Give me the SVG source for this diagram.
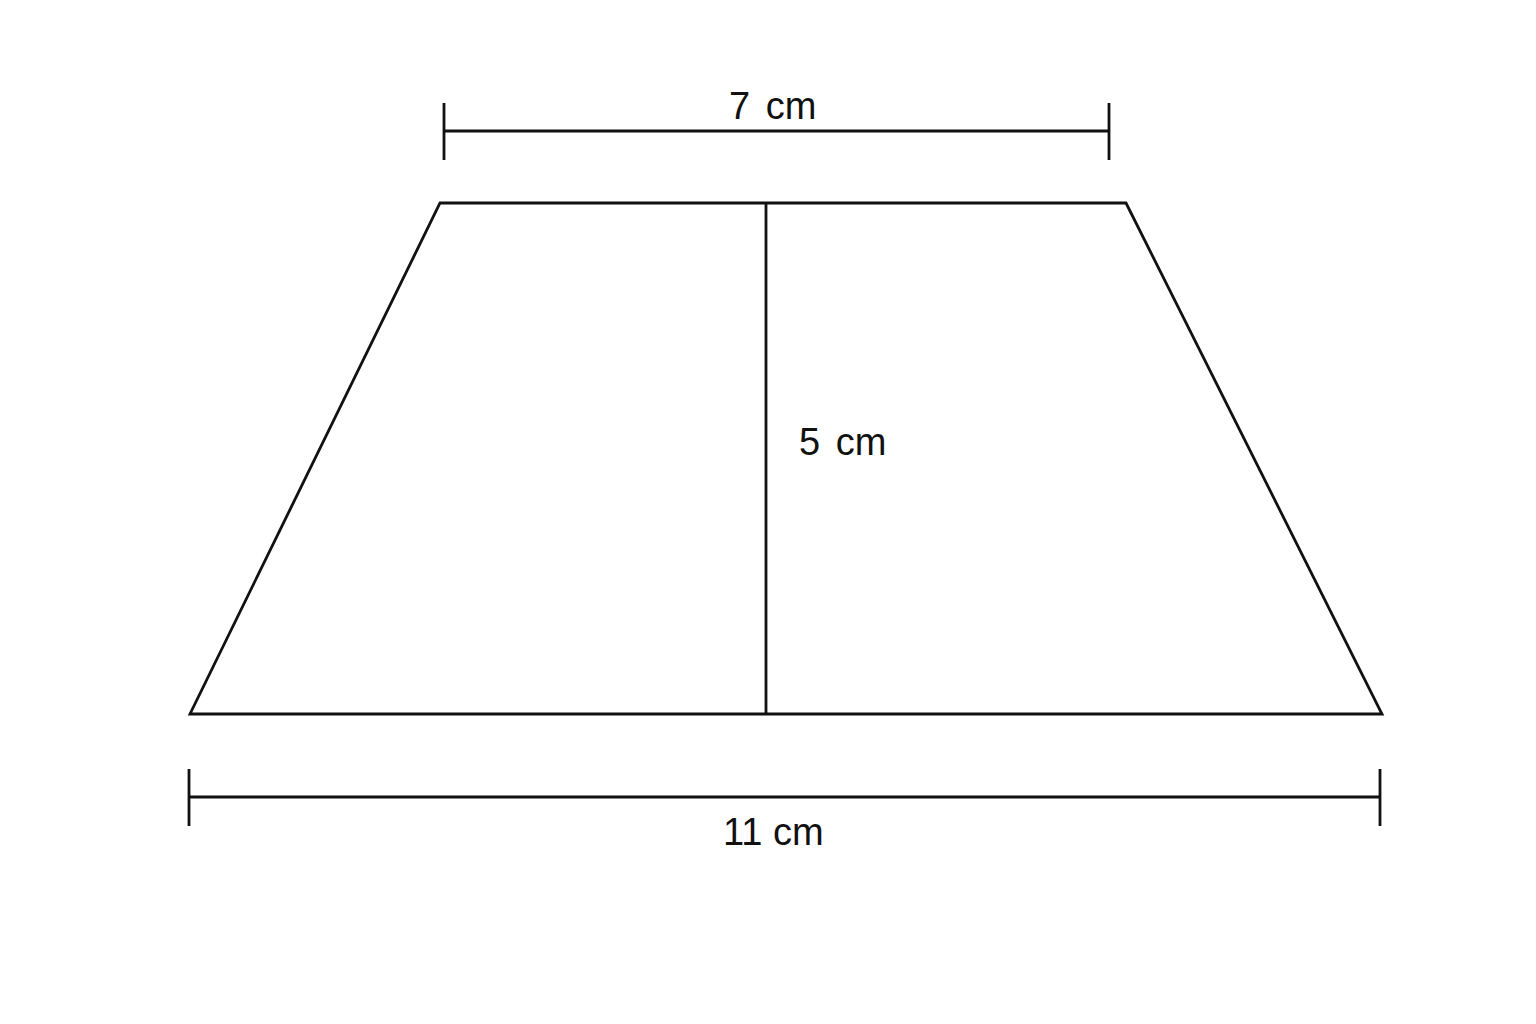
<svg xmlns="http://www.w3.org/2000/svg" width="1536" height="1024" viewBox="0 0 1536 1024">
<style>
.ln{stroke:#111;stroke-width:2.8;fill:none;stroke-linecap:butt;stroke-linejoin:miter}
.lbl{font-family:"Liberation Sans",Arial,sans-serif;font-size:38px;fill:#111;word-spacing:5px}
</style>
<rect width="1536" height="1024" fill="#ffffff"/>
<g id="trapezoid">
<polygon class="ln" points="440,203 1126,203 1382,714 190,714"/>
</g>
<g id="connectors">
<line id="height" class="ln" x1="766" y1="203" x2="766" y2="714"/>
<g id="dim-top">
<line class="ln" x1="444" y1="131" x2="1109" y2="131"/>
<line class="ln" x1="444" y1="103" x2="444" y2="160"/>
<line class="ln" x1="1109" y1="103" x2="1109" y2="160"/>
</g>
<g id="dim-bottom">
<line class="ln" x1="189" y1="797" x2="1380" y2="797"/>
<line class="ln" x1="189" y1="769" x2="189" y2="826"/>
<line class="ln" x1="1380" y1="769" x2="1380" y2="826"/>
</g>
</g>
<g id="labels">
<text id="label-top" class="lbl" x="729" y="119">7 cm</text>
<text id="label-height" class="lbl" x="799" y="455">5 cm</text>
<text id="label-bottom" class="lbl" x="723" y="845" style="word-spacing:0">11 cm</text>
</g>
</svg>
